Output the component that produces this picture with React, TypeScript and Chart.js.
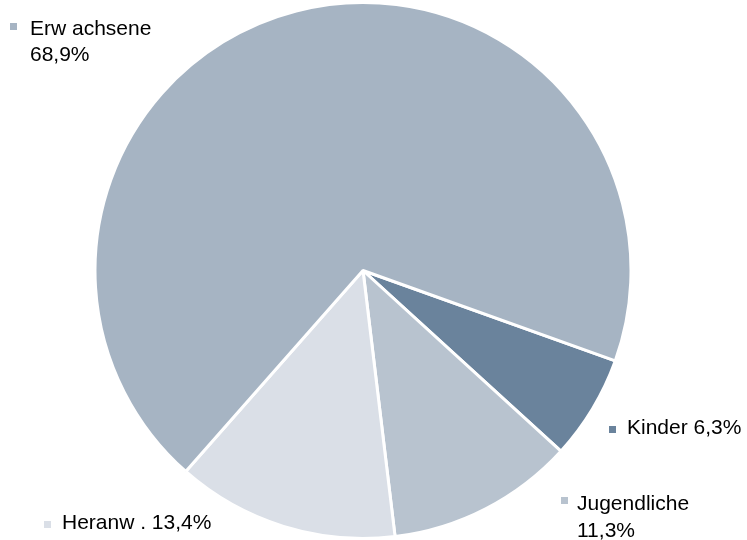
import React, { useEffect, useRef } from "react";
import { Chart, registerables } from "chart.js";

Chart.register(...registerables);

const categories = ["Kinder", "Jugendliche", "Heranw .", "Erw achsene"];
const values = [6.3, 11.3, 13.4, 68.9];
const valueLabels = ["6,3%", "11,3%", "13,4%", "68,9%"];
const colors = ["#6A839C", "#B8C3CF", "#DADFE7", "#A6B4C3"];

const labelPlugin = {
  id: "sliceLabels",
  afterDraw(chart: any) {
    const ctx = chart.ctx;
    ctx.save();
    ctx.font = "21px 'Liberation Sans', Arial, sans-serif";
    ctx.fillStyle = "#000000";
    ctx.textBaseline = "alphabetic";
    const place = [
      { marker: [609, 426], lines: [[627, 434, `${categories[0]} ${valueLabels[0]}`]] },
      { marker: [561, 497], lines: [[577, 510, categories[1]], [577, 537, valueLabels[1]]] },
      { marker: [44, 521], lines: [[62, 529, `${categories[2]} ${valueLabels[2]}`]] },
      { marker: [10, 23], lines: [[30, 35, categories[3]], [30, 61, valueLabels[3]]] },
    ];
    place.forEach((p, i) => {
      ctx.fillStyle = colors[i];
      ctx.fillRect(p.marker[0], p.marker[1], 7, 7);
      ctx.fillStyle = "#000000";
      p.lines.forEach((l: any) => ctx.fillText(l[2], l[0], l[1]));
    });
    ctx.restore();
  },
};

export default function App() {
  const ref = useRef<HTMLCanvasElement>(null);
  useEffect(() => {
    if (!ref.current) return;
    const chart = new Chart(ref.current, {
      type: "pie",
      data: {
        labels: categories,
        datasets: [
          {
            data: values,
            backgroundColor: colors,
            borderColor: "#FFFFFF",
            borderWidth: 3,
          },
        ],
      },
      options: {
        responsive: false,
        animation: false,
        devicePixelRatio: 1,
        rotation: 109.7,
        layout: { padding: { top: 1, bottom: 0, left: 0, right: 21 } },
        plugins: {
          legend: { display: false },
          tooltip: { enabled: false },
        },
      },
      plugins: [labelPlugin],
    } as any);
    return () => chart.destroy();
  }, []);
  return (
    <div style={{ position: "fixed", left: 0, top: 0, width: 747, height: 540, background: "#fff" }}>
      <canvas ref={ref} width={747} height={540} />
    </div>
  );
}
